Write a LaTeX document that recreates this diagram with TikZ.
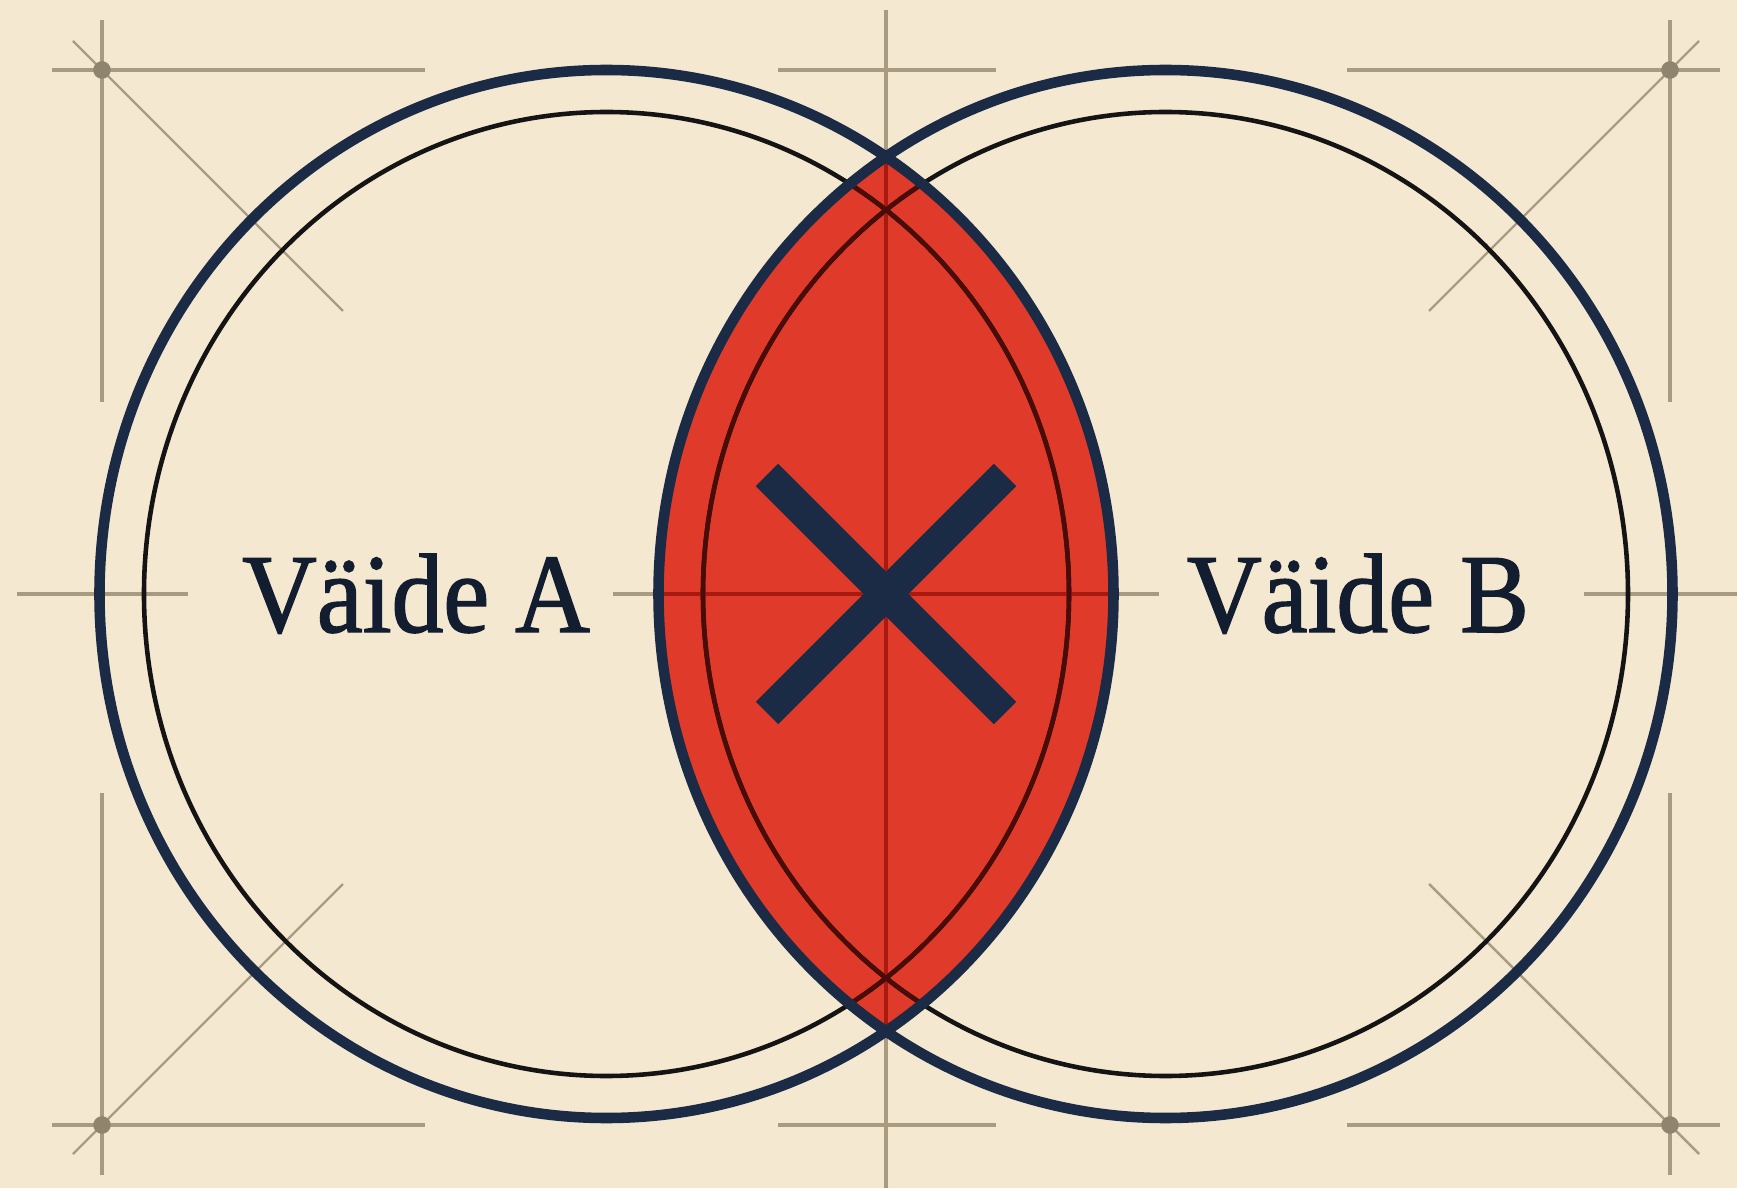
\documentclass[tikz,border=0pt]{standalone}
\usepackage{fontspec}
\newfontfamily\labelfont[FakeStretch=0.92,FakeBold=1.3]{Liberation Serif}
\usetikzlibrary{calc}
\definecolor{paper}{HTML}{F4E8D1}
\definecolor{ink}{HTML}{1B2A45}
\definecolor{guideclr}{HTML}{A89B82}
\definecolor{lensred}{HTML}{E03B2A}
\definecolor{lensguide}{HTML}{A81A10}
\definecolor{lensring}{HTML}{4A0C08}
\tikzset{
  guide/.style={guideclr,line width=1pt},
  guidediag/.style={guideclr,line width=0.7pt},
  guidedot/.style={circle,fill=guideclr!85!black,inner sep=0pt,minimum size=5pt},
  ring/.style={ink,line width=3pt},
  innerring/.style={black!92,line width=1.3pt},
  crossbar/.style={ink,line width=9pt},
  lbl/.style={font=\labelfont\fontsize{32}{36}\selectfont,text=ink!70!black,
    inner sep=0pt,anchor=base},
}

\begin{document}
\begin{tikzpicture}[x=0.01cm,y=0.01cm]
  \fill[paper] (-886,-594) rectangle (851,594);
  \useasboundingbox (-886,-594) rectangle (851,594);
  % construction marks in the corners
  \foreach \cx/\cy/\sx/\sy/\nm in {-784/524/-1/1/TL,784/524/1/1/TR,
                                   -784/-531/-1/-1/BL,784/-531/1/-1/BR}{
    \coordinate (c\nm) at (\cx,\cy);
    \draw[guide] ($(c\nm)+(0,50*\sy)$) -- ($(c\nm)+(0,-332*\sy)$);
    \draw[guide] ($(c\nm)+(50*\sx,0)$) -- ($(c\nm)+(-323*\sx,0)$);
    \draw[guidediag] ($(c\nm)+(29*\sx,29*\sy)$) -- ($(c\nm)+(-241*\sx,-241*\sy)$);
    \node[guidedot] (dot\nm) at (c\nm) {};
  }
  % centre axes
  \draw[guide] (-108,524) -- (110,524);
  \draw[guide] (-108,-531) -- (110,-531);
  \draw[guide] (0,584) -- (0,-594);
  \draw[guide] (-869,0) -- (-698,0);
  \draw[guide] (-273,0) -- (273,0);
  \draw[guide] (698,0) -- (851,0);

  \coordinate (ctrA) at (-279.5,0);
  \coordinate (ctrB) at (279.5,0);

  % the overlap
  \begin{scope}
    \clip (ctrA) ellipse[x radius=507,y radius=524];
    \fill[lensred] (ctrB) ellipse[x radius=507,y radius=524];
  \end{scope}

  \draw[innerring] (ctrA) ellipse[x radius=462.5,y radius=482];
  \draw[innerring] (ctrB) ellipse[x radius=462.5,y radius=482];

  \begin{scope}
    \clip (ctrA) ellipse[x radius=507,y radius=524];
    \clip (ctrB) ellipse[x radius=507,y radius=524];
    \draw[guide,lensguide] (0,584) -- (0,-594) (-273,0) -- (273,0);
    \draw[innerring,lensring] (ctrA) ellipse[x radius=462.5,y radius=482];
    \draw[innerring,lensring] (ctrB) ellipse[x radius=462.5,y radius=482];
  \end{scope}

  \draw[ring] (ctrA) ellipse[x radius=507,y radius=524];
  \draw[ring] (ctrB) ellipse[x radius=507,y radius=524];

  % the cross
  \coordinate (xTL) at (-119,119);
  \coordinate (xTR) at (119,119);
  \coordinate (xBL) at (-119,-119);
  \coordinate (xBR) at (119,-119);
  \draw[crossbar] (xTL) -- (xBR);
  \draw[crossbar] (xTR) -- (xBL);

  \node[lbl] (claimA) at (-470,-38) {Väide A};
  \node[lbl] (claimB) at (472,-38) {Väide B};
\end{tikzpicture}
\end{document}
